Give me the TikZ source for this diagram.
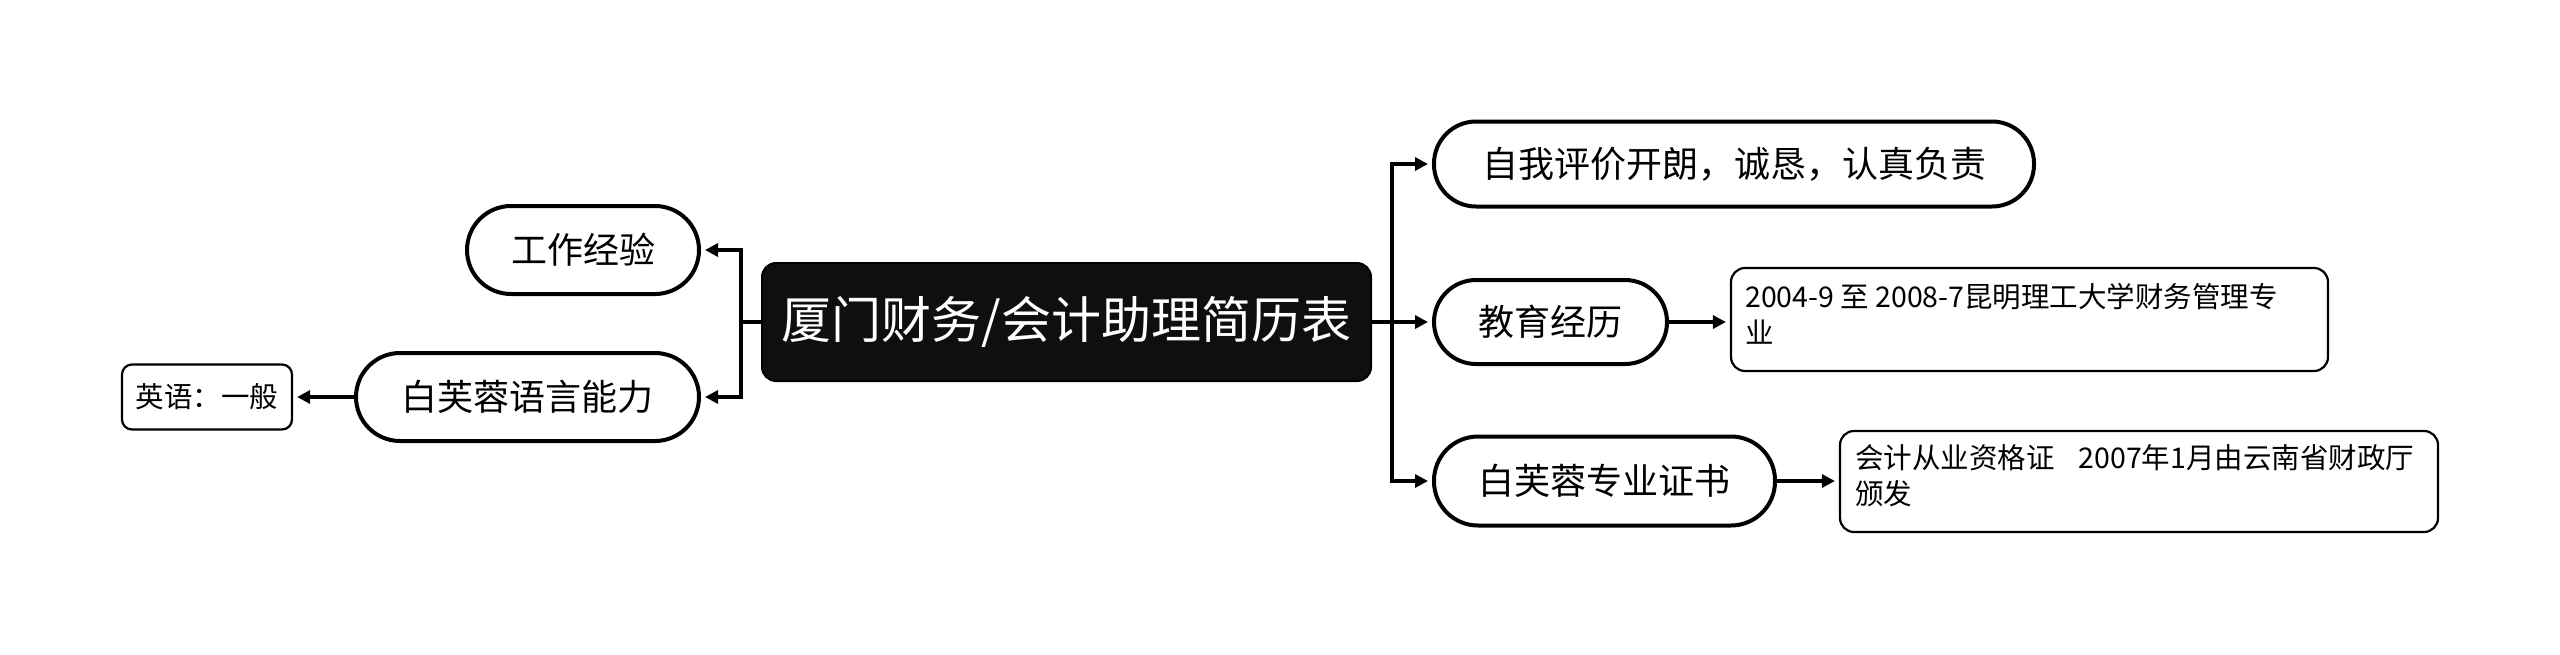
\documentclass[tikz,border=0pt]{standalone}
\usepackage{fontspec}
\setmainfont{Noto Sans CJK SC}
\usetikzlibrary{arrows.meta}
\tikzset{
  rootbox/.style={draw=black,fill=black!94,line width=2pt,rounded corners=14pt,text=white,
    font=\fontsize{50}{58}\selectfont,inner sep=0pt},
  pillbox/.style={draw=black,fill=white,line width=4pt,font=\fontsize{36}{42}\selectfont,inner sep=0pt},
  detailbox/.style={draw=black,fill=white,line width=2.2pt,rounded corners=14pt,inner sep=0pt},
  detailtext/.style={font=\fontsize{28.5}{36}\selectfont,align=left,anchor=north west,inner sep=0pt},
  link/.style={line width=4pt,draw=black},
  arrowlink/.style={link,-{Triangle[length=13pt,width=13pt]},shorten >=4pt}
}
\begin{document}
\begin{tikzpicture}[x=1pt,y=-1pt]
\useasboundingbox (0,0) rectangle (2560,654);
% central
\node[rootbox,minimum width=609pt,minimum height=118pt] (c) at (1066.5,322) {厦门财务/会计助理简历表};
% right branches
\node[pillbox,rounded corners=42pt,minimum width=600pt,minimum height=85pt] (n1) at (1734,164) {自我评价开朗，诚恳，认真负责};
\node[pillbox,rounded corners=42pt,minimum width=233pt,minimum height=84pt] (n2) at (1550.5,322) {教育经历};
\node[pillbox,rounded corners=44pt,minimum width=341pt,minimum height=89pt] (n3) at (1604.5,481) {白芙蓉专业证书};
% left branches
\node[pillbox,rounded corners=44pt,minimum width=232pt,minimum height=88pt] (w1) at (583,250) {工作经验};
\node[pillbox,rounded corners=44pt,minimum width=343pt,minimum height=88pt] (w2) at (527.5,397) {白芙蓉语言能力};
% detail boxes
\node[detailbox,rounded corners=10pt,minimum width=170pt,minimum height=65pt,font=\fontsize{28.5}{36}\selectfont] (d0) at (207,397) {英语：一般};
\node[detailbox,minimum width=597pt,minimum height=103pt] (d1) at (2029.5,319.5) {};
\node[detailtext] (t1) at (1745,283) {2004-9 至 2008-7昆明理工大学财务管理专\\业};
\node[detailbox,minimum width=598pt,minimum height=101pt] (d2) at (2139,481.5) {};
\node[detailtext] (t2) at (1855,444) {会计从业资格证\hspace{24pt}2007年1月由云南省财政厅\\颁发};
% connectors
\coordinate (rb) at (1392,322);
\coordinate (lb) at (741,322);
\draw[link] (c.east) -- (rb);
\draw[arrowlink] (rb) |- (n1.west);
\draw[arrowlink] (rb) -- (n2.west);
\draw[arrowlink] (rb) |- (n3.west);
\draw[link] (c.west) -- (lb);
\draw[arrowlink] (lb) |- (w1.east);
\draw[arrowlink] (lb) |- (w2.east);
\draw[arrowlink] (w2.west) -- (d0.east);
\draw[arrowlink] (n2.east) -- (d1.west |- n2.east);
\draw[arrowlink] (n3.east) -- (d2.west |- n3.east);
\end{tikzpicture}
\end{document}
